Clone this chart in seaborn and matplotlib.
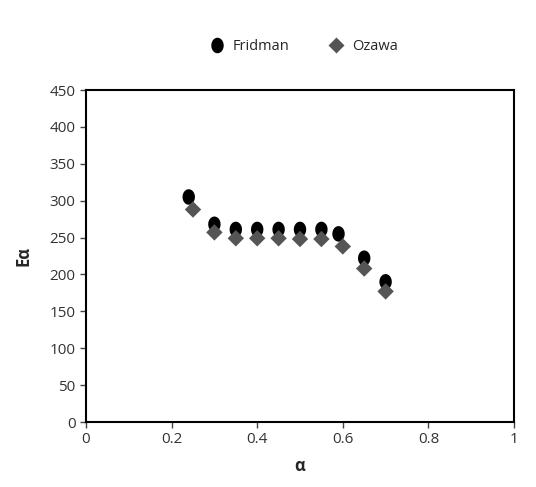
import matplotlib
matplotlib.use("Agg")
import matplotlib.pyplot as plt
from matplotlib.path import Path
import numpy as np
import seaborn as sns
import pandas as pd

fridman_alpha = [0.24, 0.30, 0.35, 0.40, 0.45, 0.50, 0.55, 0.59, 0.65, 0.70]
fridman_E = [305, 268, 261, 261, 261, 261, 261, 255, 222, 190]
ozawa_alpha = [0.25, 0.30, 0.35, 0.40, 0.45, 0.50, 0.55, 0.60, 0.65, 0.70]
ozawa_E = [288, 257, 249, 249, 249, 248, 248, 238, 208, 177]
x_ticks = [0, 0.2, 0.4, 0.6, 0.8, 1]
y_ticks = [0, 50, 100, 150, 200, 250, 300, 350, 400, 450]

df = pd.DataFrame({
    "alpha": fridman_alpha + ozawa_alpha,
    "E": fridman_E + ozawa_E,
    "method": ["Fridman"] * len(fridman_alpha) + ["Ozawa"] * len(ozawa_alpha),
})

sns.set_style("white")
plt.rcParams["font.family"] = ["Open Sans", "DejaVu Sans"]

t = np.linspace(0, 2 * np.pi, 41)
ellipse = Path(np.column_stack([0.8 * np.cos(t), np.sin(t)]), closed=True)

fig = plt.figure(figsize=(5.36, 4.87), dpi=100)
ax = fig.add_axes([86 / 536, 1 - 422 / 487, 428 / 536, 332 / 487])

sns.scatterplot(
    data=df, x="alpha", y="E", hue="method", style="method", size="method",
    palette={"Fridman": "#000000", "Ozawa": "#555555"},
    markers={"Fridman": ellipse, "Ozawa": "D"},
    sizes={"Fridman": 125, "Ozawa": 70},
    edgecolor="none", ax=ax, legend=True,
)
ax.set_xlim(0, 1)
ax.set_ylim(0, 450)
ax.set_xticks(x_ticks)
ax.set_xticklabels(["0", "0.2", "0.4", "0.6", "0.8", "1"])
ax.set_yticks(y_ticks)
ax.tick_params(axis="both", direction="out", length=4, width=1, color="#444444",
               labelsize=11, labelcolor="#333333", left=True, bottom=True)
for sp in ax.spines.values():
    sp.set_visible(True)
    sp.set_color("#000000")
    sp.set_linewidth(1.5)
ax.set_xlabel("α", fontsize=12, fontweight="bold", labelpad=7)
ax.set_ylabel("Eα", fontsize=12, fontweight="bold", labelpad=12)

handles, labels = ax.get_legend_handles_labels()
ax.legend(handles, labels, loc="lower center", bbox_to_anchor=(0.5, 1.07),
          ncol=2, frameon=False, fontsize=10.5, handletextpad=0.1,
          columnspacing=2.2, title=None)

fig.savefig("out.png", dpi=100)
